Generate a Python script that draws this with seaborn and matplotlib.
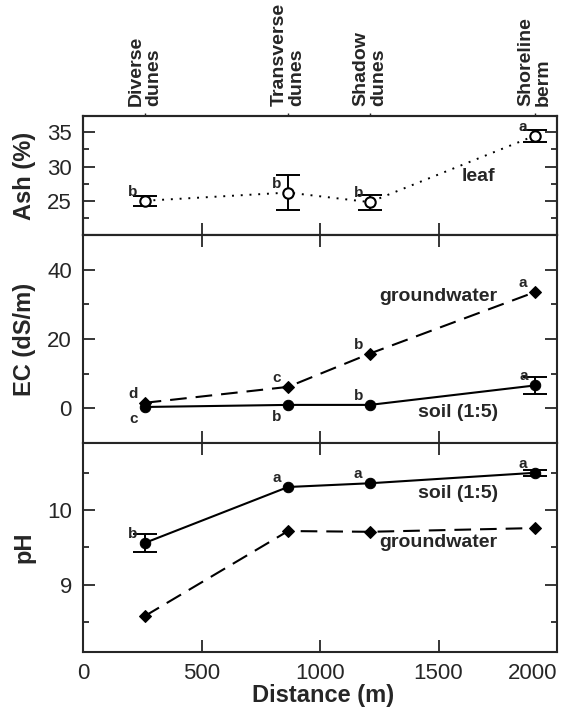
import numpy as np
import pandas as pd
import matplotlib
matplotlib.use("Agg")
import matplotlib.pyplot as plt
import seaborn as sns

# sites along the transect
sites = ["Diverse\ndunes", "Transverse\ndunes", "Shadow\ndunes", "Shoreline\nberm"]
distance = [260, 865, 1210, 1905]

# leaf ash (%)
ash_leaf = [25.0, 26.2, 24.8, 34.5]
ash_err = [0.7, 2.5, 1.1, 0.85]
ash_letters = ["b", "b", "b", "a"]

# EC (dS/m)
ec_ground = [1.6, 6.2, 15.8, 33.5]
ec_ground_letters = ["d", "c", "b", "a"]
ec_soil = [0.4, 1.0, 1.0, 6.6]
ec_soil_err = [0, 0, 0, 2.4]
ec_soil_letters = ["c", "b", "b", "a"]

# pH
ph_soil = [9.56, 10.31, 10.36, 10.50]
ph_soil_err = [0.12, 0, 0, 0.04]
ph_soil_letters = ["b", "a", "a", "a"]
ph_ground = [8.58, 9.72, 9.71, 9.76]

df = pd.DataFrame({"distance": distance, "ash": ash_leaf, "ec_ground": ec_ground,
                   "ec_soil": ec_soil, "ph_soil": ph_soil, "ph_ground": ph_ground})

sns.set_style("ticks")
plt.rcParams['font.family'] = ['Liberation Sans', 'DejaVu Sans']
plt.rcParams['axes.linewidth'] = 1.5

fig = plt.figure(figsize=(5.61, 7.27), dpi=100)
L, W = 0.148, 0.845
ax1 = fig.add_axes([L, 0.6768, W, 0.1637])
ax2 = fig.add_axes([L, 0.3906, W, 0.2861])
ax3 = fig.add_axes([L, 0.1032, W, 0.2875])

dotted = (0, (1, 3.5))
dashed = (0, (8, 4.3))


def errbars(ax, y, err):
    x = np.array(distance)
    y = np.array(y)
    e = np.array(err)
    m = e > 0
    ax.errorbar(x[m], y[m], yerr=e[m], fmt='none', ecolor='k', elinewidth=1.4,
                capsize=8.5, capthick=1.4, zorder=2)


def letters(ax, y, labs, dy=6.5):
    for xi, yi, t in zip(distance, y, labs):
        ax.annotate(t, (xi, yi), xytext=(-8.4, dy), textcoords="offset points",
                    ha="center", va="center", fontsize=11, fontweight="bold")


# panel 1: leaf ash
sns.lineplot(data=df, x="distance", y="ash", ax=ax1, color="k", linestyle=dotted, lw=1.4,
             marker="o", markersize=7.5, markerfacecolor="white", markeredgecolor="k",
             markeredgewidth=1.5, errorbar=None, zorder=3)
errbars(ax1, ash_leaf, ash_err)
letters(ax1, ash_leaf, ash_letters)
ax1.text(1667, 28.6, "leaf", ha="center", va="center", fontsize=14, fontweight="bold")
ax1.set_ylim(20, 37.4)
ax1.set_yticks([25, 30, 35])
ax1.set_yticks([22.5, 27.5, 32.5], minor=True)
ax1.set_ylabel("Ash (%)")

# panel 2: EC
sns.lineplot(data=df, x="distance", y="ec_ground", ax=ax2, color="k", linestyle=dashed, lw=1.5,
             marker="D", markersize=6.3, markeredgecolor="k", errorbar=None, zorder=3)
sns.lineplot(data=df, x="distance", y="ec_soil", ax=ax2, color="k", lw=1.5,
             marker="o", markersize=7.5, markeredgecolor="k", errorbar=None, zorder=3)
errbars(ax2, ec_soil, ec_soil_err)
letters(ax2, ec_ground, ec_ground_letters, dy=6.5)
for xi, yi, t, dy in zip(distance, ec_soil, ec_soil_letters, [-8.4, -8.4, 6.5, 6.5]):
    ax2.annotate(t, (xi, yi), xytext=(-8.0, dy), textcoords="offset points",
                 ha="center", va="center", fontsize=11, fontweight="bold")
ax2.text(1498, 32.3, "groundwater", ha="center", va="center", fontsize=14, fontweight="bold")
ax2.text(1582, -1.2, "soil (1:5)", ha="center", va="center", fontsize=14, fontweight="bold")
ax2.set_ylim(-10, 50)
ax2.set_yticks([0, 20, 40])
ax2.set_yticks([10, 30], minor=True)
ax2.set_ylabel("EC (dS/m)")

# panel 3: pH
sns.lineplot(data=df, x="distance", y="ph_soil", ax=ax3, color="k", lw=1.5,
             marker="o", markersize=7.5, markeredgecolor="k", errorbar=None, zorder=3)
sns.lineplot(data=df, x="distance", y="ph_ground", ax=ax3, color="k", linestyle=dashed, lw=1.5,
             marker="D", markersize=6.3, markeredgecolor="k", errorbar=None, zorder=3)
errbars(ax3, ph_soil, ph_soil_err)
letters(ax3, ph_soil, ph_soil_letters)
ax3.text(1582, 10.22, "soil (1:5)", ha="center", va="center", fontsize=14, fontweight="bold")
ax3.text(1498, 9.57, "groundwater", ha="center", va="center", fontsize=14, fontweight="bold")
ax3.set_ylim(8.1, 10.9)
ax3.set_yticks([9, 10])
ax3.set_yticks([8.5, 9.5, 10.5], minor=True)
ax3.set_ylabel("pH")

for ax in (ax1, ax2, ax3):
    ax.set_xlim(0, 2000)
    ax.set_xticks([0, 500, 1000, 1500, 2000])
    ax.tick_params(axis="both", which="major", direction="in", length=8.5, width=1.3,
                   top=True, right=True, labelsize=16, pad=8)
    ax.tick_params(axis="y", which="minor", direction="in", length=4.5, width=1.3,
                   left=True, right=True)
    ax.yaxis.label.set_fontsize(17)
    ax.yaxis.label.set_fontweight("bold")
    ax.yaxis.set_label_coords(-0.10, 0.5)
    ax.set_xlabel("")
    for s in ax.spines.values():
        s.set_linewidth(1.5)

ax1.tick_params(axis="x", labelbottom=False)
ax2.tick_params(axis="x", labelbottom=False)
ax3.set_xticklabels(["0", "500", "1000", "1500", "2000"])
ax3.get_xticklabels()[-1].set_ha("right")
ax3.set_xlabel("Distance (m)", fontsize=17, fontweight="bold")
ax3.xaxis.set_label_coords(0.507, -0.155)

# site names on top
top = ax1.twiny()
top.set_xlim(ax1.get_xlim())
top.set_xticks(distance)
top.set_xticklabels(sites, rotation=90, fontsize=14, fontweight="bold")
for lbl in top.get_xticklabels():
    lbl.set_multialignment("left")
    lbl.set_linespacing(1.05)
top.tick_params(axis="x", direction="out", length=2.5, width=1.0, pad=5)
top.tick_params(axis="x", which="minor", top=False, bottom=False)

fig.savefig("out.png", dpi=100)
